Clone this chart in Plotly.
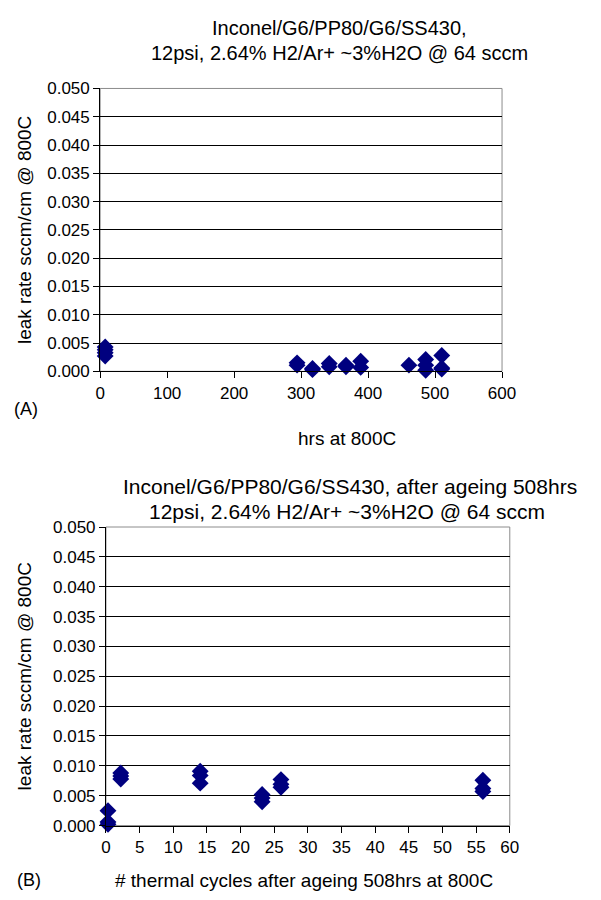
import plotly.graph_objects as go

# ---- data ----
hrs_x = [7.5, 7.5, 7.5, 7.5, 294, 294, 317, 317, 342, 342, 367, 367,
         389, 389, 461, 486, 486, 486, 510, 510, 510]
hrs_y = [0.0043, 0.0038, 0.0033, 0.0027, 0.0015, 0.0011, 0.0005, 0.0003,
         0.0014, 0.0008, 0.0011, 0.0008, 0.0018, 0.0007, 0.0011,
         0.0021, 0.0011, 0.0002, 0.0028, 0.0006, 0.0004]

cyc_x = [0.3, 0.3, 0.3, 2.2, 2.2, 2.2, 14, 14, 14, 23.2, 23.2, 23.2,
         26, 26, 26, 56, 56, 56]
cyc_y = [0.0025, 0.0006, 0.0002, 0.0088, 0.0083, 0.0078, 0.0091, 0.0084,
         0.0071, 0.0052, 0.0046, 0.0040, 0.0077, 0.0069, 0.0064,
         0.0076, 0.0062, 0.0057]

y_ticks = [i * 0.005 for i in range(11)]
top_x_ticks = [0, 100, 200, 300, 400, 500, 600]
bot_x_ticks = list(range(0, 61, 5))

title_a1 = "Inconel/G6/PP80/G6/SS430,"
title_a2 = "12psi, 2.64% H2/Ar+ ~3%H2O @ 64 sccm"
title_b1 = "Inconel/G6/PP80/G6/SS430, after ageing 508hrs"
title_b2 = "12psi, 2.64% H2/Ar+ ~3%H2O @ 64 sccm"
ylab = "leak rate sccm/cm @ 800C"
xlab_a = "hrs at 800C"
xlab_b = "# thermal cycles after ageing 508hrs at 800C"

FONT = "Liberation Sans, Arial, sans-serif"
NAVY = "#00007f"

W, H = 601, 900
def px(x):
    return x / W
def py(y):
    return 1 - y / H

fig = go.Figure()
fig.add_trace(go.Scatter(x=hrs_x, y=hrs_y, mode="markers", xaxis="x", yaxis="y",
                         marker=dict(symbol="diamond", size=13, color=NAVY),
                         cliponaxis=False, showlegend=False))
fig.add_trace(go.Scatter(x=cyc_x, y=cyc_y, mode="markers", xaxis="x2", yaxis="y2",
                         marker=dict(symbol="diamond", size=13, color=NAVY),
                         cliponaxis=False, showlegend=False))

axis_common = dict(showline=True, linecolor="black", linewidth=1, ticks="outside",
                   ticklen=6, tickcolor="black", tickfont=dict(family=FONT, size=17, color="black"),
                   zeroline=False)

top_dom_x = [px(90), px(505)]
top_dom_y = [py(362), py(73)]
bot_dom_x = [px(96), px(513)]
bot_dom_y = [py(826), py(521)]

fig.update_layout(
    width=W, height=H, margin=dict(l=0, r=0, t=0, b=0),
    paper_bgcolor="white", plot_bgcolor="white",
    font=dict(family=FONT, color="black"),
    xaxis=dict(domain=top_dom_x, anchor="y", range=[0, 600], tickvals=top_x_ticks,
               showgrid=False, **axis_common),
    yaxis=dict(domain=top_dom_y, anchor="x", range=[0, 0.05], tickvals=y_ticks,
               tickformat=".3f", showgrid=True, gridcolor="black", gridwidth=1, **axis_common),
    xaxis2=dict(domain=bot_dom_x, anchor="y2", range=[0, 60], tickvals=bot_x_ticks,
                showgrid=False, **axis_common),
    yaxis2=dict(domain=bot_dom_y, anchor="x2", range=[0, 0.05], tickvals=y_ticks,
                tickformat=".3f", showgrid=True, gridcolor="black", gridwidth=1, **axis_common),
)

# gray plot-area frames
for xr, yr in [("x domain", "y domain"), ("x2 domain", "y2 domain")]:
    fig.add_shape(type="rect", xref=xr, yref=yr, x0=0, x1=1, y0=0, y1=1,
                  line=dict(color="#8c8c8c", width=1), layer="below")

ann = []
def t(text, x, y, size, xanchor="center", angle=0):
    ann.append(dict(text=text, x=px(x), y=py(y), xref="paper", yref="paper",
                    showarrow=False, xanchor=xanchor, yanchor="middle", textangle=angle,
                    font=dict(family=FONT, size=size, color="black")))

t(title_a1, 337, 11, 20)
t(title_a2, 337, 37, 20)
t(ylab, 12, 218, 19, angle=-90)
t("(A)", 13, 400, 18)
t(xlab_a, 345, 431, 19)

t(title_b1, 348, 480, 21)
t(title_b2, 345, 505, 21)
t(ylab, 12, 674, 19, angle=-90)
t("(B)", 17, 882, 18)
t(xlab_b, 300, 882, 19)

fig.update_layout(annotations=ann)
fig.write_html("out.html")
